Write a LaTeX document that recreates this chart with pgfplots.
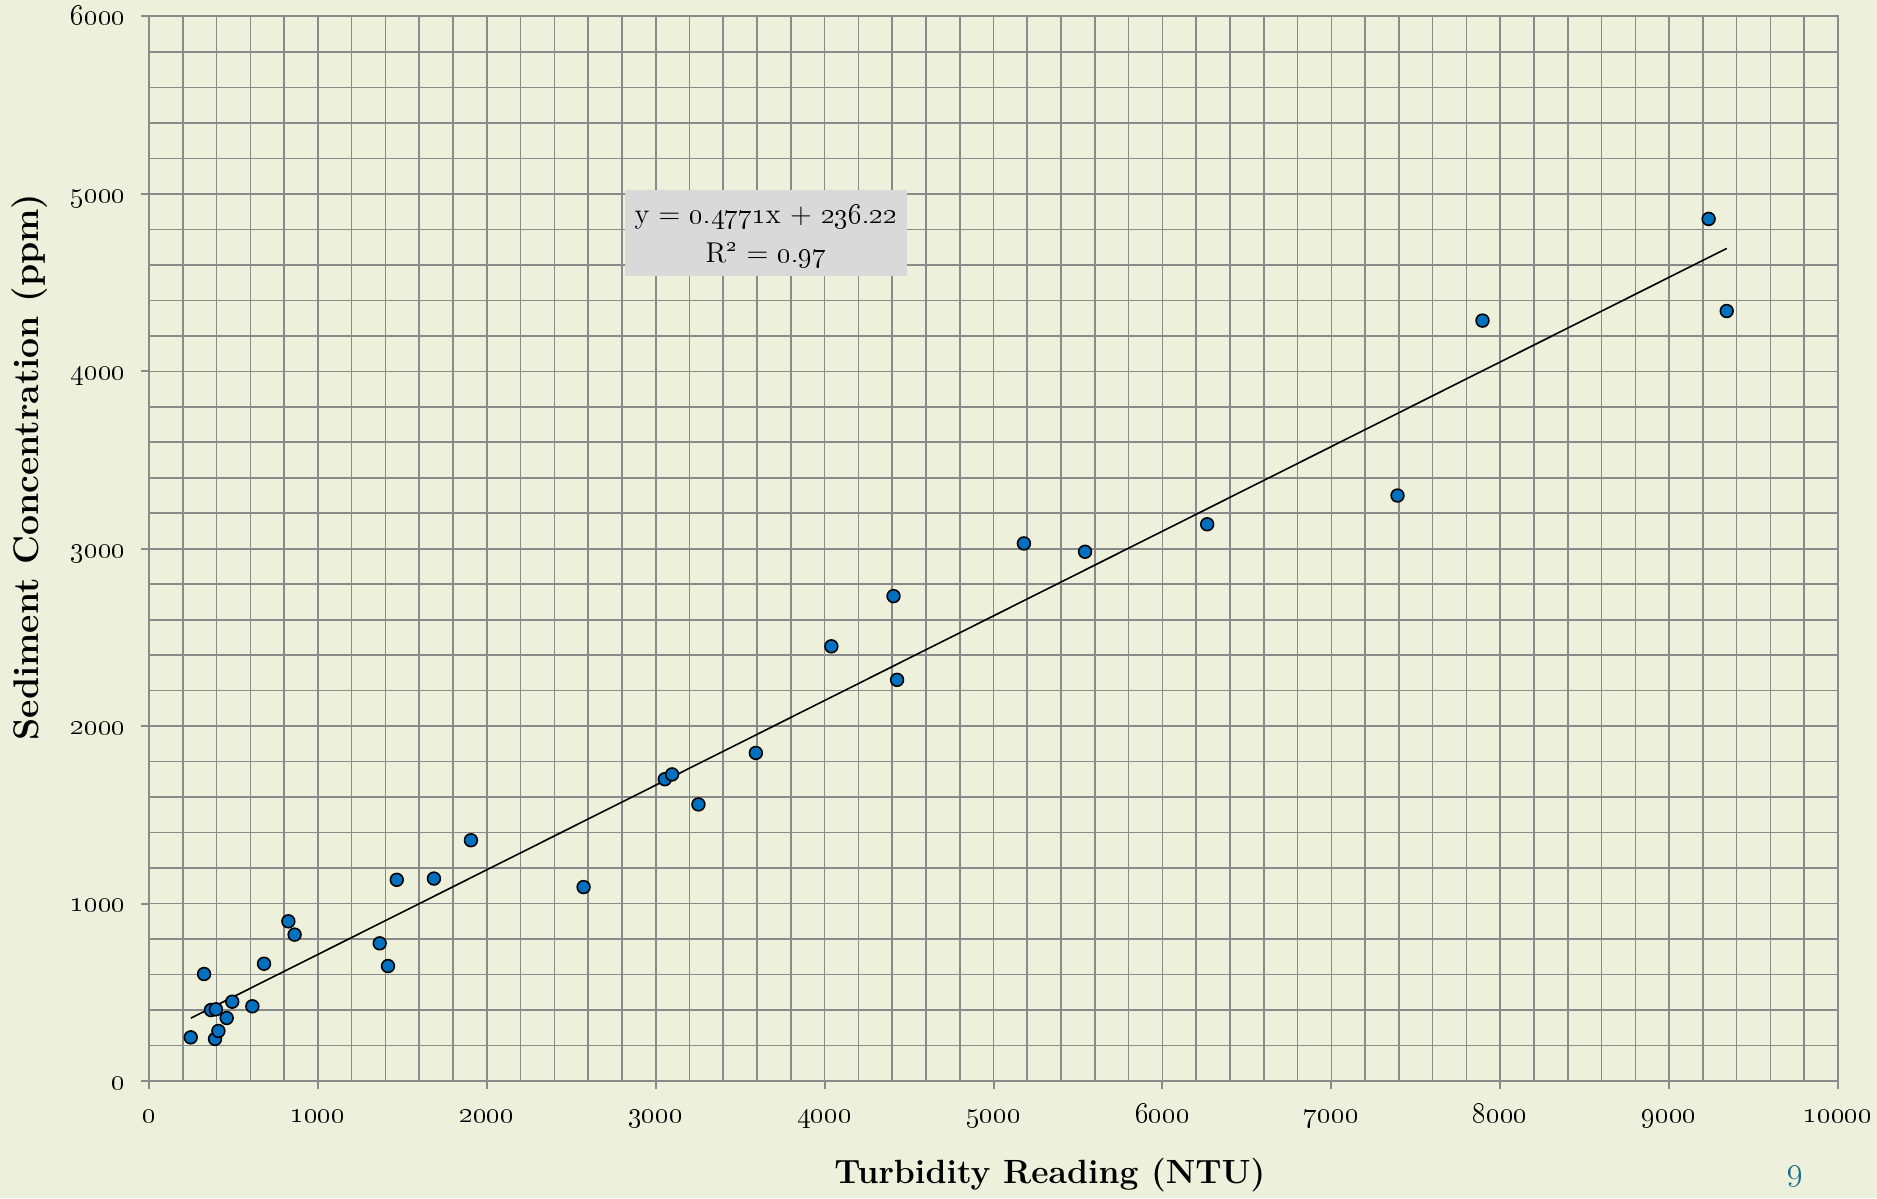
\documentclass[border=0pt]{standalone}
\usepackage{pgfplots}
\pgfplotsset{compat=1.18}
\definecolor{bg}{RGB}{237,241,219}
\definecolor{gridc}{RGB}{138,138,138}
\definecolor{ptblue}{RGB}{0,112,192}
\definecolor{teal9}{RGB}{28,110,140}
\definecolor{boxgray}{RGB}{217,217,217}
\begin{document}
\begin{tikzpicture}
\fill[bg, use as bounding box] (-74.5pt,-58.5pt) rectangle (864pt,540.5pt);
\begin{axis}[
  scale only axis, width=844.5pt, height=532.25pt,
  xmin=0, xmax=10000, ymin=0, ymax=6000,
  xtick={0,1000,...,10000}, ytick={0,1000,...,6000},
  minor x tick num=4, minor y tick num=4,
  grid=both,
  major grid style={gridc, line width=0.8pt},
  minor grid style={gridc, line width=0.8pt},
  axis line style={gridc, line width=1pt},
  tick align=outside, major tick length=4pt, minor tick length=0pt,
  tick style={gridc, line width=1pt},
  xtick pos=left, ytick pos=left,
  scaled ticks=false,
  /pgf/number format/assume math mode=true,
  /pgf/number format/1000 sep={},
  xticklabel={\oldstylenums{\pgfmathprintnumber[fixed,precision=0]{\tick}}},
  yticklabel={\oldstylenums{\pgfmathprintnumber[fixed,precision=0]{\tick}}},
  ticklabel style={font=\fontsize{13.6}{15}\selectfont},
  xticklabel style={anchor=base, yshift=-16.8pt},
  yticklabel style={anchor=base east, yshift=-4.2pt, xshift=-4.2pt},
  xlabel={Turbidity Reading (NTU)},
  ylabel={Sediment Concentration (ppm)},
  xlabel style={font=\fontsize{16.8}{19}\selectfont\bfseries,
    at={(axis description cs:0.5334,-0.0883)}, anchor=center},
  ylabel style={font=\fontsize{17.8}{20}\selectfont\bfseries,
    at={(axis description cs:-0.0705,0.5768)}, anchor=center},
  clip=false,
]
\addplot[only marks, mark=*, mark size=3.2pt,
  mark options={fill=ptblue, draw=black, line width=0.8pt}]
  coordinates {
  (247,246) (326,603) (367,400) (396,404) (391,237) (411,282)
  (460,355) (493,447) (612,421) (681,661) (825,900) (862,825)
  (1366,776) (1415,648) (1467,1134) (1687,1141) (1906,1357)
  (2573,1093) (3054,1701) (3097,1728) (3253,1559) (3593,1849)
  (4040,2450) (4408,2733) (4429,2261) (5180,3030) (5542,2983)
  (6265,3138) (7392,3300) (7895,4286) (9234,4859) (9341,4340)
  };
\addplot[black, line width=0.8pt] coordinates {(248,354.5) (9341,4692.8)};
\node[fill=boxgray, minimum width=140.5pt, minimum height=43pt, inner sep=0pt]
  at (axis cs:3653,4780) {};
\node[font=\fontsize{14.3}{16}\selectfont, inner sep=0pt]
  at ([yshift=7.7pt]axis cs:3653,4780)
  {y = \oldstylenums{0.4771}x + \oldstylenums{236.22}};
\node[font=\fontsize{14.3}{16}\selectfont, inner sep=0pt]
  at ([yshift=-11.2pt]axis cs:3653,4780)
  {R\textsuperscript{\oldstylenums{2}} = \oldstylenums{0.97}};
\node[text=teal9, font=\fontsize{18}{20}\selectfont]
  at (axis description cs:0.975,-0.0892) {\oldstylenums{9}};
\end{axis}
\end{tikzpicture}
\end{document}
